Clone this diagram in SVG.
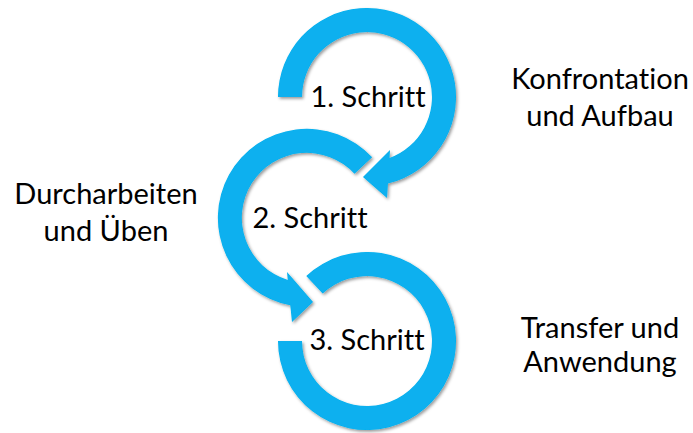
<svg xmlns="http://www.w3.org/2000/svg" width="693" height="433" viewBox="0 0 693 433">
  <defs>
    <filter id="shadow" x="-10%" y="-10%" width="125%" height="125%">
      <feDropShadow dx="1.5" dy="1.8" stdDeviation="1.4" flood-color="#000" flood-opacity="0.4"/>
    </filter>
  </defs>
  <style>
    .ring { fill: #07b0ef; filter: url(#shadow); }
    text { font-family: Lato, "Liberation Sans", sans-serif; font-size: 29px; fill: #000; text-anchor: middle; font-variant-ligatures: none; }
  </style>
  <rect width="693" height="433" fill="#fff"/>

  <!-- Step 1: clockwise ring from the left, head at bottom -->
  <g id="step1">
    <path class="ring" d="M 278 97 A 89 89 0 1 1 387.9 183.5 L 387 198 L 363 177 L 390 150 L 389.5 158 A 65 65 0 1 0 302 97 Z"/>
    <text x="368" y="107">1. Schritt</text>
  </g>

  <!-- Step 2: counter-clockwise ring from upper right, head at bottom -->
  <g id="step2">
    <path class="ring" d="M 372.1 157.3 A 89 89 0 1 0 290.3 305.3 L 292 322 L 313 302 L 287 272 L 287.8 280 A 65 65 0 1 1 354.5 173.7 Z"/>
    <text x="310" y="228">2. Schritt</text>
  </g>

  <!-- Step 3: open ring without a head -->
  <g id="step3">
    <path class="ring" d="M 278 341 A 89 89 0 1 0 306.3 275.9 L 322.7 293.5 A 65 65 0 1 1 302 341 Z"/>
    <text x="367" y="350">3. Schritt</text>
  </g>

  <!-- Descriptions beside each step -->
  <g id="label1">
    <text x="600" y="89">Konfrontation</text>
    <text x="600" y="126">und Aufbau</text>
  </g>
  <g id="label2">
    <text x="106" y="204">Durcharbeiten</text>
    <text x="106" y="241">und Üben</text>
  </g>
  <g id="label3">
    <text x="600" y="338">Transfer und</text>
    <text x="600" y="372">Anwendung</text>
  </g>
</svg>
